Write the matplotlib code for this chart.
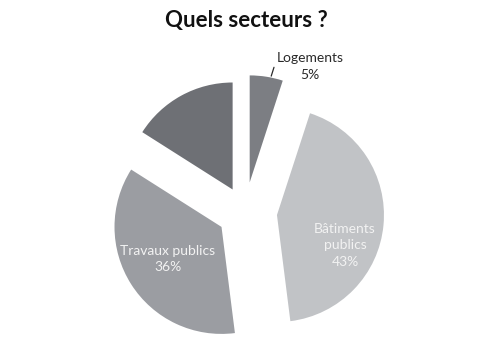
import matplotlib
matplotlib.use("Agg")
import matplotlib.pyplot as plt

title = "Quels secteurs ?"
categories = ["Logements", "Bâtiments\npublics", "Travaux publics", ""]
values = [5, 43, 36, 16]
pct_labels = ["5%", "43%", "36%", ""]
colors = ["#7c7e83", "#c1c3c6", "#9b9da2", "#6e7075"]
explode = [0.28, 0.30, 0.26, 0.24]

fig = plt.figure(figsize=(5.01, 3.63), dpi=100)
ax = fig.add_axes([0, 0, 1, 1])
wedges, _ = ax.pie(values, colors=colors, explode=explode, startangle=90,
                   counterclock=False, radius=1.0,
                   wedgeprops=dict(linewidth=0))
ax.set_xlim(-245 / 107, (501 - 245) / 107)
ax.set_ylim(-(363 - 212) / 107, 212 / 107)
ax.set_aspect("auto")
ax.axis("off")

fam = ["Lato", "DejaVu Sans"]
ls = 1.45
# Logements (outside label with leader line)
ax.annotate(f"{categories[0]}\n{pct_labels[0]}", xy=(0.245, 1.27), xytext=(0.61, 1.36),
            ha="center", va="center", fontsize=10, family=fam, color="#2a2a2a",
            linespacing=ls,
            arrowprops=dict(arrowstyle="-", color="#2a2a2a", lw=0.9,
                            shrinkA=0, shrinkB=0,
                            relpos=(0.0, 0.78)))
# Bâtiments publics
ax.text(0.935, -0.31, f"{categories[1]}\n{pct_labels[1]}", ha="center", va="center",
        fontsize=10, family=fam, color="#f2f2f2", linespacing=ls)
# Travaux publics
ax.text(-0.72, -0.44, f"{categories[2]}\n{pct_labels[2]}", ha="center", va="center",
        fontsize=10, family=fam, color="#f2f2f2", linespacing=ls)

fig.text(0.492, 1 - 21 / 363, title, ha="center", va="center", fontsize=16,
         fontweight="bold", family=fam, color="#111111")

fig.savefig("out.png", dpi=100, facecolor="white")
